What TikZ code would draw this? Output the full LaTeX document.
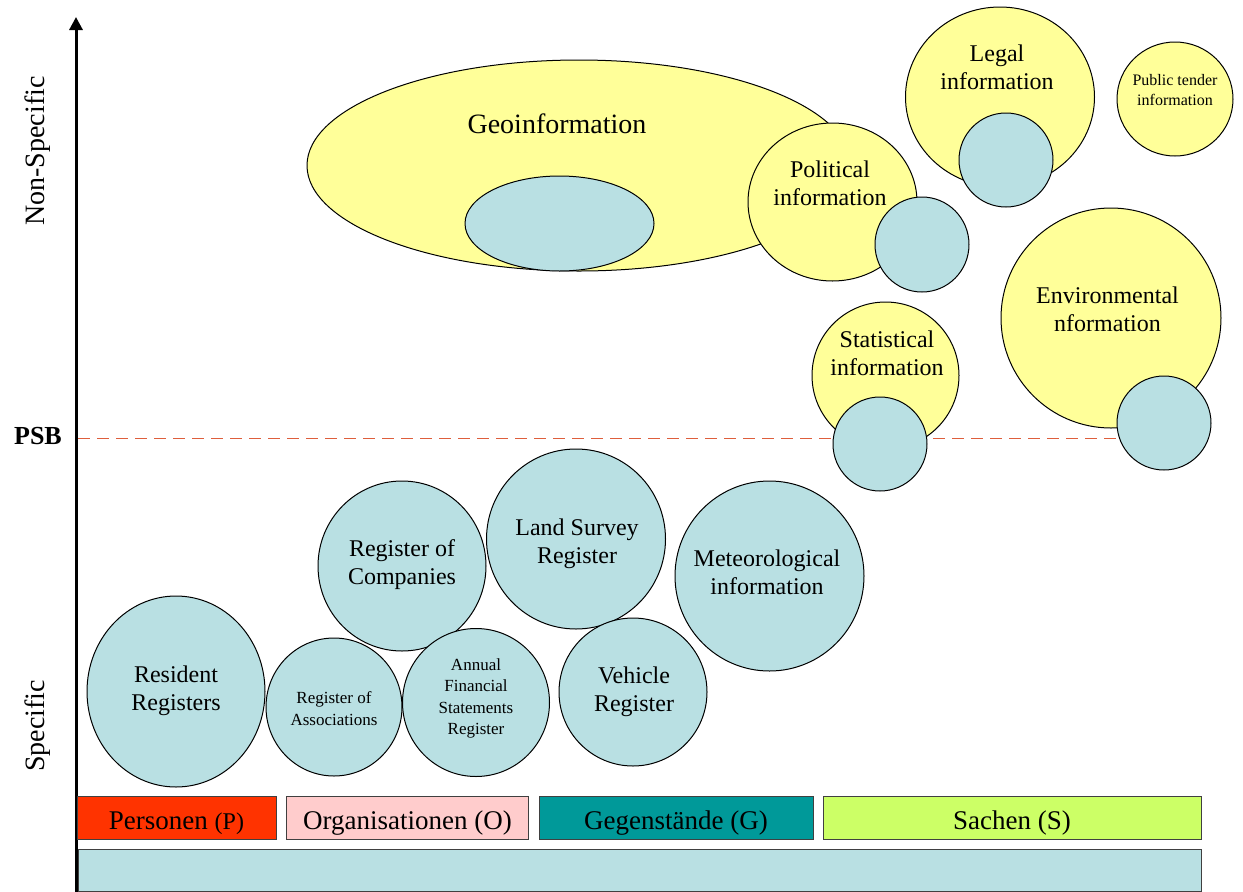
\documentclass[tikz,border=0pt]{standalone}
\usepackage{fontspec}
\setmainfont{Liberation Serif}
\usetikzlibrary{arrows.meta,shapes.geometric}
\definecolor{cblue}{RGB}{185,224,227}
\definecolor{cyell}{RGB}{255,255,153}
\definecolor{cred}{RGB}{255,51,0}
\definecolor{cpink}{RGB}{255,204,204}
\definecolor{cteal}{RGB}{0,153,153}
\definecolor{clime}{RGB}{204,255,102}
\definecolor{cdash}{RGB}{222,94,60}
\begin{document}
\begin{tikzpicture}[x=1pt,y=-1pt,
  blob/.style={ellipse, draw=black, line width=1pt, inner sep=0pt},
  yel/.style={blob, fill=cyell},
  blu/.style={blob, fill=cblue},
  lbl/.style={font=\fontsize{24}{28}\selectfont, align=center, inner sep=0pt},
  sml/.style={font=\fontsize{17}{21.3}\selectfont, align=center, inner sep=0pt},
  tny/.style={font=\fontsize{16}{20.5}\selectfont, align=center, inner sep=0pt},
  axlbl/.style={font=\fontsize{28}{32}\selectfont, inner sep=0pt, rotate=90},
  catbar/.style={draw=black!75, line width=1pt, inner sep=0pt, minimum height=43pt,
                 text height=25pt, text depth=2pt,
                 font=\fontsize{27}{32}\selectfont},
  psbline/.style={draw=cdash, line width=1.3pt, dash pattern=on 12pt off 7pt}
]
\useasboundingbox (0,0) rectangle (1243,892);

% PSB dashed line (below the circles)
\coordinate (psbL) at (78,438.5);
\coordinate (psbR) at (1120,438.5);
\draw[psbline] (psbL) -- (psbR);

% axis
\coordinate (axbot) at (76,892);
\coordinate (axtop) at (76,17);
\draw[line width=3pt, -{Triangle[width=13pt,length=13pt]}] (axbot) -- (axtop);

\node[axlbl] (nonspec) at (38,151) {Non-Specific};
\node[axlbl] (spec) at (38,726) {Specific};
\node[font=\fontsize{26}{30}\selectfont\bfseries, inner sep=0pt] (psb) at (38,436) {PSB};

% upper (non-specific) shapes
\node[yel, minimum width=544pt, minimum height=211pt] (geo) at (579,165.5) {};
\node[blu, minimum width=189pt, minimum height=95pt] (geoin) at (559.5,223.5) {};
\node[lbl, font=\fontsize{28}{33}\selectfont] (geot) at (557,124) {Geoinformation};

\node[yel, minimum width=169pt, minimum height=158pt] (pol) at (832.5,202) {};
\node[blu, minimum width=94pt, minimum height=95pt] (polb) at (922,244.5) {};
\node[lbl] (polt) at (830,183) {Political\\information};

\node[yel, minimum width=189pt, minimum height=180pt] (leg) at (1000,97) {};
\node[blu, minimum width=94pt, minimum height=94pt] (legb) at (1006,160) {};
\node[lbl] (legt) at (997,67) {Legal\\information};

\node[yel, minimum width=116pt, minimum height=114pt] (pub) at (1175,99) {};
\node[tny] (pubt) at (1175,90) {Public tender\\information};

\node[yel, minimum width=220pt, minimum height=220pt] (env) at (1111,318) {};
\node[blu, minimum width=94pt, minimum height=94pt] (envb) at (1164,423) {};
\node[lbl] (envt) at (1107.5,309) {Environmental\\nformation};

\node[yel, minimum width=147pt, minimum height=147pt] (stat) at (885.5,375.5) {};
\node[blu, minimum width=94pt, minimum height=94pt] (statb) at (880,444) {};
\node[lbl] (statt) at (887,353.5) {Statistical\\information};

% lower (specific) registers
\node[blu, minimum width=168pt, minimum height=170pt] (comp) at (402,566) {};
\node[lbl] (compt) at (402,564.5) {Register of\\Companies};

\node[blu, minimum width=179pt, minimum height=180pt] (land) at (576,539) {};
\node[lbl] (landt) at (577,544) {Land Survey\\Register};

\node[blu, minimum width=178pt, minimum height=191pt] (res) at (176,691.5) {};
\node[lbl] (rest) at (176,690.5) {Resident\\Registers};

\node[blu, minimum width=136pt, minimum height=138pt] (assoc) at (334,707) {};
\node[sml] (assoct) at (334,708.5) {Register of\\Associations};

\node[blu, minimum width=147pt, minimum height=148pt] (annual) at (476,702.5) {};
\node[sml] (annualt) at (476,698.5) {Annual\\Financial\\Statements\\Register};

\node[blu, minimum width=148pt, minimum height=148pt] (veh) at (633,692) {};
\node[lbl] (veht) at (634,691.5) {Vehicle\\Register};

\node[blu, minimum width=189pt, minimum height=190pt] (met) at (769.5,576) {};
\node[lbl] (mett) at (767,572.5) {Meteorological\\information};

% category bars
\node[catbar, fill=cred, minimum width=199pt] (pers) at (176.5,817.5)
  {Personen {\fontsize{24}{28}\selectfont(P)}};
\node[catbar, fill=cpink, minimum width=242pt] (org) at (407.5,817.5) {Organisationen (O)};
\node[catbar, fill=cteal, minimum width=274pt] (geg) at (676,817.5) {Gegenstände (G)};
\node[catbar, fill=clime, minimum width=378pt] (sach) at (1012,817.5) {Sachen (S)};
\node[catbar, fill=cblue, minimum width=1123pt, minimum height=42pt] (base) at (639.5,870) {};
\end{tikzpicture}
\end{document}
